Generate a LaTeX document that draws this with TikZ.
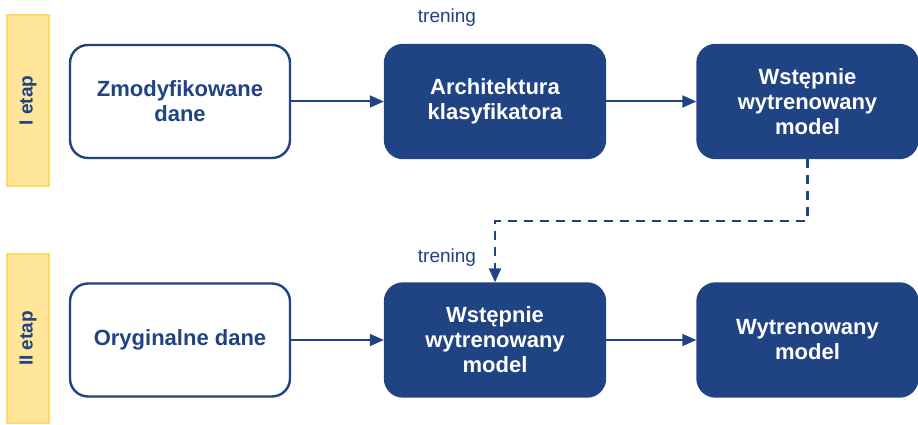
\documentclass[tikz,border=0pt]{standalone}
\usepackage{fontspec}
\setmainfont{Liberation Sans}
\usetikzlibrary{arrows.meta}

\definecolor{granat}{HTML}{1F4383}
\definecolor{zolty}{HTML}{FFE699}
\definecolor{zoltyram}{HTML}{FFD966}

\tikzset{
	jasny/.style={draw=granat, line width=2.4pt, fill=white, rounded corners=18pt,
		minimum width=220pt, minimum height=113pt, align=center,
		font=\fontsize{22}{25}\selectfont\bfseries, text=granat},
	ciemny/.style={jasny, fill=granat, text=white},
	etap/.style={draw=zoltyram, line width=1.5pt, fill=zolty, minimum height=42pt,
		font=\fontsize{19}{22}\selectfont\bfseries, text=granat, rotate=90},
	strzalka/.style={draw=granat, line width=2pt, -{Triangle[length=14pt,width=12pt]}},
	podpis/.style={font=\fontsize{19}{22}\selectfont, text=granat},
}

\begin{document}
\begin{tikzpicture}[x=1pt, y=-1pt]
	\useasboundingbox (0,0) rectangle (918,425);
	\node[etap, minimum width=171pt] (e1) at (28, 100.5) {I etap};
	\node[etap, minimum width=169pt] (e2) at (28, 338.5) {II etap};
	\node[jasny] (1) at (180, 101.5) {Zmodyfikowane\\dane};
	\node[ciemny] (2) at (495, 101.5) {Architektura\\klasyfikatora};
	\node[ciemny] (3) at (807.5, 101.5) {Wstępnie\\wytrenowany\\model};
	\node[jasny] (4) at (180, 340) {Oryginalne dane};
	\node[ciemny] (5) at (495, 340) {Wstępnie\\wytrenowany\\model};
	\node[ciemny] (6) at (807.5, 340) {Wytrenowany\\model};
	\node[podpis] (t1) at (447, 18) {trening};
	\node[podpis] (t2) at (447, 258) {trening};
	\coordinate (k) at (0, 221);
		\draw[strzalka] (1) -- (2);
		\draw[strzalka] (2) -- (3);
		\draw[strzalka] (4) -- (5);
		\draw[strzalka] (5) -- (6);
	\draw[strzalka, line width=2.4pt, dash pattern=on 9pt off 7pt]
		(3.south) -- (3.south |- k) -| (5.north);
\end{tikzpicture}
\end{document}
